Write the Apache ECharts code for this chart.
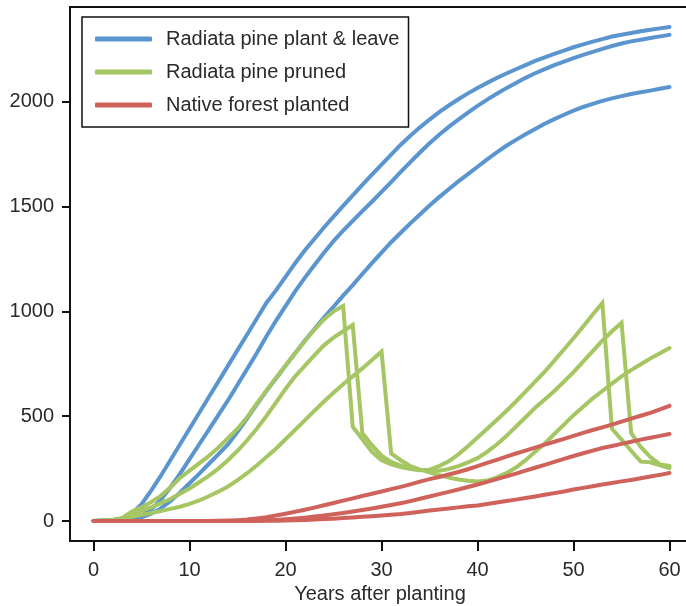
<!DOCTYPE html>
<html><head><meta charset="utf-8">
<script src="https://cdn.jsdelivr.net/npm/echarts@6/dist/echarts.min.js"></script>
<style>html,body{margin:0;padding:0;background:#fff}#c{width:686px;height:606px}</style>
</head><body><div id="c"></div>
<script>
const years=[0,1,2,3,4,5,6,7,8,9,10,11,12,13,14,15,16,17,18,19,20,21,22,23,24,25,26,27,28,29,30,31,32,33,34,35,36,37,38,39,40,41,42,43,44,45,46,47,48,49,50,51,52,53,54,55,56,57,58,59,60];
const xTicks=[0,10,20,30,40,50,60];
const yTicks=[0,500,1000,1500,2000];
const seriesNames=['Radiata pine plant & leave','Radiata pine pruned','Native forest planted'];

const blueTop=[0,2,5,12,35,80,145,215,290,365,440,515,590,665,740,815,890,965,1040,1100,1165,1230,1290,1345,1400,1452,1503,1553,1603,1652,1700,1748,1795,1838,1878,1915,1950,1982,2012,2040,2066,2090,2113,2135,2155,2175,2195,2212,2228,2244,2260,2274,2287,2299,2311,2320,2328,2336,2343,2350,2357];
const blueMid=[0,1,3,6,12,25,55,100,160,225,295,365,435,505,575,650,725,800,880,955,1025,1095,1160,1220,1280,1335,1385,1432,1478,1523,1570,1617,1665,1712,1758,1802,1843,1880,1915,1948,1980,2010,2038,2065,2090,2114,2136,2156,2175,2192,2208,2224,2238,2252,2266,2278,2288,2296,2304,2312,2319];
const blueLow=[0,0,2,5,10,18,35,60,95,135,180,225,272,318,365,425,490,555,620,680,740,800,860,915,970,1022,1075,1125,1178,1230,1280,1330,1375,1420,1462,1505,1545,1583,1620,1655,1690,1725,1758,1790,1818,1845,1870,1895,1917,1938,1958,1975,1990,2004,2016,2027,2037,2045,2053,2062,2070];

const greenA=[0,2,5,15,45,65,90,120,160,205,240,275,310,350,395,440,495,560,622,682,742,800,858,912,962,1000,1026,450,390,330,290,270,257,248,242,245,262,285,318,357,398,440,482,525,570,617,665,712,765,818,872,928,985,1040,440,388,335,283,280,266,252];
const greenB=[0,2,4,10,35,50,65,85,105,130,155,185,215,250,290,335,385,440,500,565,630,690,740,790,838,875,905,935,420,362,312,282,264,252,244,240,240,248,262,280,300,330,365,405,450,495,540,580,620,665,710,760,810,860,905,945,420,353,305,270,262];
const greenC=[0,1,3,8,20,30,38,48,58,68,82,98,118,140,165,195,228,265,305,345,390,435,480,525,570,612,652,690,728,768,808,323,290,262,245,232,218,207,198,192,188,193,208,228,255,290,330,370,415,460,505,545,585,620,655,690,720,748,775,800,825];

const redTop=[0,0,0,0,0,0,0,0,0,0,0,0,0,1,2,4,7,12,18,26,35,44,54,64,75,86,97,108,119,130,141,152,163,175,188,200,210,222,234,247,262,277,292,307,322,336,350,364,378,392,406,420,434,447,460,474,488,502,516,532,549];
const redMid=[0,0,0,0,0,0,0,0,0,0,0,0,0,0,0,0,0,1,3,5,8,12,16,21,26,32,38,45,52,60,68,76,85,95,106,117,128,139,150,162,174,187,200,213,226,240,254,268,282,296,310,323,336,348,358,368,378,388,397,406,415];
const redLow=[0,0,0,0,0,0,0,0,0,0,0,0,0,0,0,0,0,0,1,1,2,3,5,7,9,11,14,17,20,23,26,30,33,38,44,50,55,60,65,70,74,81,88,95,102,110,117,125,133,141,150,158,166,174,181,189,196,204,212,220,229];

const BLUE='#5b95cf', GREEN='#a5c663', RED='#cf635b';
const FONT='"Liberation Sans", Arial, Helvetica, sans-serif';
const TXT='#2a2a2a';
function mk(name,color,vals){
  return {name:name,type:'line',data:years.map((y,i)=>[y,vals[i]]),symbol:'none',showSymbol:false,
    lineStyle:{color:color,width:4,cap:'round',join:'miter'},itemStyle:{color:color},silent:true};
}
const chart=echarts.init(document.getElementById('c'),null,{renderer:'canvas'});
chart.setOption({
  animation:false,
  backgroundColor:'#fff',
  grid:{left:70,top:7,right:-4,bottom:65,show:true,borderColor:'#111',borderWidth:2,backgroundColor:'transparent',outerBoundsMode:'none',containLabel:false},
  legend:{orient:'vertical',left:82,top:17,padding:[12,9,12,13],icon:'roundRect',itemWidth:57,itemHeight:5,itemGap:13,
    borderColor:'#111',borderWidth:1.5,backgroundColor:'#fff',selectedMode:false,
    textStyle:{fontSize:20,lineHeight:20,color:TXT,fontFamily:FONT,padding:[0,0,0,9]},data:seriesNames},
  xAxis:{type:'value',min:-2.45,max:62.13,splitLine:{show:false},axisLine:{show:false,onZero:false},
    axisTick:{show:true,inside:false,length:10,lineStyle:{color:'#111',width:2},customValues:xTicks},
    axisLabel:{customValues:xTicks,fontSize:20,color:TXT,margin:19,fontFamily:FONT,formatter:v=>String(v)},
    name:'Years after planting',nameLocation:'middle',nameGap:42,
    nameTextStyle:{fontSize:20,color:TXT,fontFamily:FONT}},
  yAxis:{type:'value',min:-95.4,max:2452,splitLine:{show:false},axisLine:{show:false,onZero:false},
    axisTick:{show:true,inside:false,length:8,lineStyle:{color:'#111',width:2},customValues:yTicks},
    axisLabel:{customValues:yTicks,fontSize:20,color:TXT,margin:16,fontFamily:FONT,formatter:v=>String(v)}},
  series:[
    mk(seriesNames[0],BLUE,blueTop),mk(seriesNames[0],BLUE,blueMid),mk(seriesNames[0],BLUE,blueLow),
    mk(seriesNames[1],GREEN,greenA),mk(seriesNames[1],GREEN,greenB),mk(seriesNames[1],GREEN,greenC),
    mk(seriesNames[2],RED,redTop),mk(seriesNames[2],RED,redMid),mk(seriesNames[2],RED,redLow)
  ]
});
</script></body></html>
